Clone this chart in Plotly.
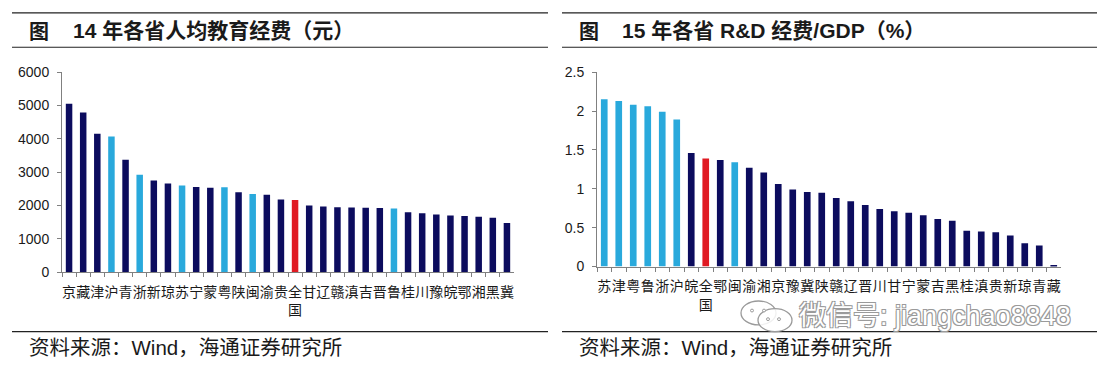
import plotly.graph_objects as go

# ---------------- data ----------------
left_cats = ["京", "藏", "津", "沪", "青", "浙", "新", "琼", "苏", "宁", "蒙", "粤", "陕", "闽", "渝", "贵",
             "全国", "甘", "辽", "赣", "滇", "吉", "晋", "鲁", "桂", "川", "豫", "皖", "鄂", "湘", "黑", "冀"]
left_vals = [5050, 4790, 4150, 4070, 3370, 2920, 2750, 2660, 2600, 2555, 2535, 2550, 2400, 2345, 2325, 2180,
             2170, 2000, 1970, 1950, 1940, 1935, 1925, 1915, 1800, 1770, 1730, 1705, 1685, 1665, 1635, 1475]
left_highlight = ["沪", "浙", "苏", "粤", "闽", "鲁"]
left_ticks = [0, 1000, 2000, 3000, 4000, 5000, 6000]

right_cats = ["苏", "津", "粤", "鲁", "浙", "沪", "皖", "全国", "鄂", "闽", "渝", "湘", "京", "豫", "冀", "陕",
              "赣", "辽", "晋", "川", "甘", "宁", "蒙", "吉", "黑", "桂", "滇", "贵", "新", "琼", "青", "藏"]
right_vals = [2.15, 2.13, 2.08, 2.06, 1.99, 1.89, 1.46, 1.39, 1.37, 1.34, 1.27, 1.21, 1.06, 0.99, 0.96, 0.95,
              0.88, 0.84, 0.79, 0.74, 0.71, 0.69, 0.66, 0.61, 0.59, 0.46, 0.45, 0.44, 0.40, 0.30, 0.27, 0.02]
right_highlight = ["苏", "津", "粤", "鲁", "浙", "沪", "闽"]
right_ticks = [0, 0.5, 1, 1.5, 2, 2.5]

national = "全国"
left_title = "14 年各省人均教育经费（元）"
right_title = "15 年各省 R&D 经费/GDP（%）"
source_text = "资料来源：Wind，海通证券研究所"
watermark = "微信号: jiangchao8848"

# ---------------- styles ----------------
W, H = 1108, 376
NAVY = "#0c0c5e"
LIGHT = "#29a9dc"
RED = "#e01a22"
FONT = "Liberation Sans, Noto Sans CJK SC, sans-serif"
CJK = "Noto Sans CJK SC, sans-serif"
TXT = "#1a1a1a"


def px_x(x):
    return x / W


def px_y(y):
    return 1 - y / H


def colors(cats, hl):
    out = []
    for c in cats:
        if c == national:
            out.append(RED)
        elif c in hl:
            out.append(LIGHT)
        else:
            out.append(NAVY)
    return out


def ticktext(cats):
    return ["<br>".join(list(c)) if c == national else c for c in cats]


fig = go.Figure()
fig.add_trace(go.Bar(x=left_cats, y=left_vals, marker=dict(color=colors(left_cats, left_highlight), line_width=0),
                     width=0.46, xaxis="x", yaxis="y", showlegend=False))
fig.add_trace(go.Bar(x=right_cats, y=right_vals, marker=dict(color=colors(right_cats, right_highlight), line_width=0),
                     width=0.46, xaxis="x2", yaxis="y2", showlegend=False))

xcommon = dict(type="category", showline=True, linecolor="#808080", linewidth=1,
               ticks="outside", tickson="boundaries", ticklen=4, tickcolor="#808080",
               tickangle=0, tickfont=dict(family=CJK, size=14, color=TXT),
               showgrid=False, zeroline=False, fixedrange=True, ticklabelstandoff=7)
ycommon = dict(showline=True, linecolor="#808080", linewidth=1, ticks="outside", ticklen=4,
               tickcolor="#808080", tickfont=dict(family=FONT, size=14, color=TXT),
               showgrid=False, zeroline=False, fixedrange=True, ticklabelstandoff=5)

fig.update_layout(
    width=W, height=H, autosize=False,
    margin=dict(l=0, r=0, t=0, b=0),
    paper_bgcolor="white", plot_bgcolor="white",
    font=dict(family=FONT, color=TXT),
    bargap=0.5,
    xaxis=dict(domain=[px_x(62), px_x(514)], anchor="y", range=[-0.5, 31.5],
               tickvals=left_cats, ticktext=ticktext(left_cats), **xcommon),
    yaxis=dict(domain=[px_y(276), px_y(67)], anchor="x", range=[0, 6000],
               tickvals=left_ticks, ticktext=[str(t) for t in left_ticks], **ycommon),
    xaxis2=dict(domain=[px_x(597), px_x(1061)], anchor="y2", range=[-0.5, 31.5],
                tickvals=right_cats, ticktext=ticktext(right_cats), **xcommon),
    yaxis2=dict(domain=[px_y(270), px_y(67)], anchor="x2", range=[0, 2.5],
                tickvals=right_ticks, ticktext=[f"{t:g}" for t in right_ticks], **ycommon),
)

shapes = []
for x0, x1 in [(12, 548), (562, 1097)]:
    for y in (5, 41, 338):
        shapes.append(dict(type="line", xref="paper", yref="paper",
                           x0=px_x(x0), x1=px_x(x1), y0=px_y(y), y1=px_y(y),
                           line=dict(color="#222222", width=1.2)))
# watermark logo (two speech bubbles)
shapes.append(dict(type="circle", xref="paper", yref="paper",
                   x0=px_x(741), x1=px_x(776), y0=px_y(331), y1=px_y(306),
                   line=dict(color="#9a9a9a", width=1.3), fillcolor="rgba(255,255,255,0.6)"))
shapes.append(dict(type="circle", xref="paper", yref="paper",
                   x0=px_x(758), x1=px_x(792), y0=px_y(338), y1=px_y(314),
                   line=dict(color="#9a9a9a", width=1.3), fillcolor="rgba(255,255,255,0.85)"))
for cx, cy in [(752, 316), (764, 316), (768, 325), (779, 325)]:
    shapes.append(dict(type="circle", xref="paper", yref="paper",
                       x0=px_x(cx - 1.5), x1=px_x(cx + 1.5), y0=px_y(cy + 1.5), y1=px_y(cy - 1.5),
                       line=dict(color="#9a9a9a", width=1), fillcolor="white"))
fig.update_layout(shapes=shapes)

ann = []
for x_fig, x_title, title in [(27, 71, left_title), (577, 620, right_title)]:
    ann.append(dict(text="<b>图</b>", x=px_x(x_fig), y=px_y(24), xref="paper", yref="paper",
                    xanchor="left", yanchor="middle", showarrow=False,
                    font=dict(family=CJK, size=20, color=TXT)))
    ann.append(dict(text=f"<b>{title}</b>", x=px_x(x_title), y=px_y(24), xref="paper", yref="paper",
                    xanchor="left", yanchor="middle", showarrow=False,
                    font=dict(family=FONT, size=21, color=TXT)))
    ann.append(dict(text=source_text, x=px_x(x_fig), y=px_y(355), xref="paper", yref="paper",
                    xanchor="left", yanchor="middle", showarrow=False,
                    font=dict(family=FONT, size=20.5, color=TXT)))
ann.append(dict(text=watermark, x=px_x(797), y=px_y(322), xref="paper", yref="paper",
                xanchor="left", yanchor="middle", showarrow=False,
                font=dict(family=FONT, size=27, color="white",
                          shadow="-1px -1px 0 #9a9a9a, 1px -1px 0 #9a9a9a, -1px 1px 0 #9a9a9a, 1px 1px 0 #9a9a9a")))
fig.update_layout(annotations=ann)

fig.write_html("out.html", config={"displayModeBar": False},
               post_script="document.body.style.margin='0';")
